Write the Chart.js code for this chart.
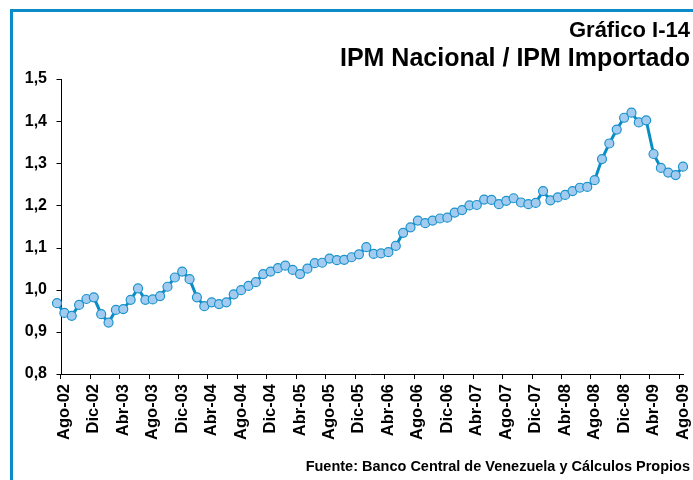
<!DOCTYPE html>
<html>
<head>
<meta charset="utf-8">
<script src="https://cdn.jsdelivr.net/npm/chart.js@4/dist/chart.umd.min.js"></script>
<style>
  html, body { margin: 0; padding: 0; background: #fff; }
  #wrap { position: relative; width: 693px; height: 480px; overflow: hidden; }
  #frame { position: absolute; left: 10px; top: 9px; width: 720px; height: 520px;
           border-top: 3px solid #0a8cc8; border-left: 3px solid #0a8cc8; }
  canvas { position: absolute; left: 0; top: 0; }
</style>
</head>
<body>
<div id="wrap">
  <div id="frame"></div>
  <canvas id="chart" width="693" height="480"></canvas>
</div>
<script>

/********** DATA **********/

// monthly categories, Jul-02 .. Ago-09
const meses = ['Ene', 'Feb', 'Mar', 'Abr', 'May', 'Jun', 'Jul', 'Ago', 'Sep', 'Oct', 'Nov', 'Dic']
const categories = []
for (let i = 0; i < 86; i++) {
  const m = (6 + i) % 12
  const y = 2 + Math.floor((6 + i) / 12)
  categories.push(meses[m] + '-' + String(y).padStart(2, '0'))
}

// IPM Nacional / IPM Importado
const ratio = [
  0.968, 0.945, 0.938, 0.964, 0.978, 0.982, 0.942, 0.922, 0.952, 0.954,
  0.976, 1.003, 0.976, 0.977, 0.985, 1.007, 1.029, 1.043, 1.025, 0.982,
  0.961, 0.970, 0.966, 0.970, 0.989, 0.999, 1.009, 1.018, 1.037, 1.043,
  1.051, 1.057, 1.047, 1.037, 1.050, 1.063, 1.064, 1.074, 1.070, 1.071,
  1.077, 1.084, 1.101, 1.085, 1.086, 1.089, 1.104, 1.135, 1.148, 1.164,
  1.158, 1.164, 1.169, 1.171, 1.183, 1.189, 1.200, 1.201, 1.214, 1.213,
  1.203, 1.211, 1.217, 1.207, 1.203, 1.206, 1.234, 1.212, 1.219, 1.225,
  1.234, 1.242, 1.244, 1.260, 1.310, 1.347, 1.380, 1.408, 1.420, 1.397,
  1.402, 1.322, 1.289, 1.278, 1.272, 1.292
]

const yMin = 0.8
const yMax = 1.5
const yStep = 0.1

const subtitulo = 'Gráfico I-14'
const titulo = 'IPM Nacional / IPM Importado'
const fuente = 'Fuente: Banco Central de Venezuela y Cálculos Propios'

/********** PLUGINS **********/

const FONT = '"Liberation Sans", Arial, Helvetica, sans-serif'

// vertical axis sits between the first two months, like the Excel original
const yAxisLine = {
  id: 'yAxisLine',
  beforeDatasetsDraw: (chart) => {
    const ctx = chart.ctx
    const x = chart.scales.x
    const y = chart.scales.y
    const px = Math.round((x.getPixelForValue(0) + x.getPixelForValue(1)) / 2) + 0.5
    ctx.save()
    ctx.strokeStyle = '#000'
    ctx.lineWidth = 1
    ctx.beginPath()
    ctx.moveTo(px, y.top)
    ctx.lineTo(px, y.bottom)
    y.ticks.forEach((t) => {
      const py = Math.round(y.getPixelForValue(t.value)) + 0.5
      ctx.moveTo(px - 5, py)
      ctx.lineTo(px, py)
    })
    ctx.stroke()
    ctx.restore()
  }
}

const textos = {
  id: 'textos',
  afterDraw: (chart) => {
    const ctx = chart.ctx
    ctx.save()
    ctx.fillStyle = '#000'
    ctx.textAlign = 'right'
    ctx.textBaseline = 'alphabetic'
    ctx.font = 'bold 22px ' + FONT
    ctx.fillText(subtitulo, 690, 37)
    ctx.font = 'bold 25px ' + FONT
    ctx.fillText(titulo, 690, 66)
    ctx.font = 'bold 14.5px ' + FONT
    ctx.fillText(fuente, 690, 471)
    ctx.restore()
  }
}

/********** CHART **********/

new Chart(document.getElementById('chart'), {
  type: 'line',
  data: {
    labels: categories,
    datasets: [{
      data: ratio,
      borderColor: '#0a8cc4',
      borderWidth: 3,
      pointRadius: 4.5,
      pointBackgroundColor: '#a3cbf0',
      pointBorderColor: '#1b93cc',
      pointBorderWidth: 1.2,
      tension: 0
    }]
  },
  options: {
    responsive: false,
    animation: false,
    devicePixelRatio: 1,
    layout: { padding: { top: 79, right: 10, bottom: 31, left: 0 } },
    plugins: {
      legend: { display: false },
      tooltip: { enabled: false }
    },
    scales: {
      x: {
        type: 'category',
        offset: false,
        afterFit: (s) => {
          s.height = 75
          s.paddingLeft = 0
          s.paddingRight = 0
        },
        border: { display: true, color: '#000', width: 1 },
        grid: {
          offset: true,
          drawOnChartArea: false,
          drawTicks: true,
          tickLength: 5,
          color: (c) => (c.index % 4 === 1 ? '#000' : 'rgba(0,0,0,0)')
        },
        ticks: {
          autoSkip: false,
          minRotation: 90,
          maxRotation: 90,
          padding: 5,
          color: '#000',
          font: { family: FONT, size: 16.5, weight: 'bold' },
          callback: function (v, i) {
            return i % 4 === 1 ? this.getLabelForValue(v) : ''
          }
        }
      },
      y: {
        min: yMin,
        max: yMax,
        afterFit: (s) => { s.width = 57 },
        border: { display: false },
        grid: { display: false, drawTicks: false },
        ticks: {
          stepSize: yStep,
          padding: 10,
          color: '#000',
          font: { family: FONT, size: 16, weight: 'bold' },
          callback: (v) => v.toFixed(1).replace('.', ',')
        }
      }
    }
  },
  plugins: [yAxisLine, textos]
})

</script>
</body>
</html>
